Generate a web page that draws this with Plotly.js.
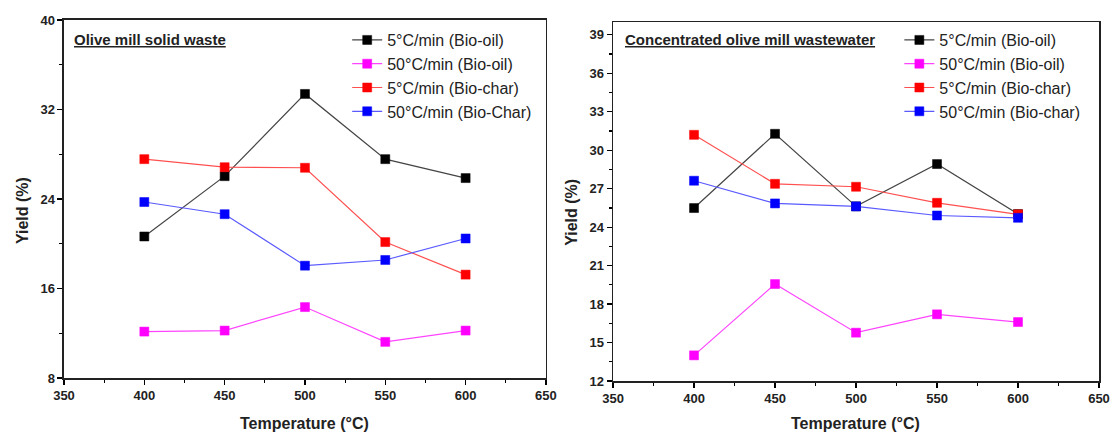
<!DOCTYPE html>
<html><head><meta charset="utf-8">
<script src="https://cdn.plot.ly/plotly-3.0.1.min.js"></script>
<style>html,body{margin:0;padding:0;background:#fff}#c{width:1111px;height:434px}</style>
</head><body><div id="c"></div>
<script>
const temps = [400, 450, 500, 550, 600];
// Olive mill solid waste
const solidOil5 = [20.65, 26.04, 33.39, 27.56, 25.87];
const solidOil50 = [12.15, 12.24, 14.34, 11.23, 12.24];
const solidChar5 = [27.56, 26.84, 26.79, 20.15, 17.24];
const solidChar50 = [23.73, 22.64, 18.04, 18.55, 20.47];
// Concentrated olive mill wastewater
const wwOil5 = [25.49, 31.28, 25.62, 28.92, 25.02];
const wwOil50 = [14.0, 19.56, 15.77, 17.2, 16.6];
const wwChar5 = [31.2, 27.38, 27.15, 25.9, 25.0];
const wwChar50 = [27.62, 25.85, 25.62, 24.91, 24.73];

const namesLeft = ['5°C/min (Bio-oil)', '50°C/min (Bio-oil)', '5°C/min (Bio-char)', '50°C/min (Bio-Char)'];
const namesRight = ['5°C/min (Bio-oil)', '50°C/min (Bio-oil)', '5°C/min (Bio-char)', '50°C/min (Bio-char)'];
const markerColors = ['#000000', '#ff00ff', '#ff0000', '#0000ff'];
const lineColors = ['#444444', '#ff44ff', '#ff5050', '#5a5aff'];

function tr(y, i, name, xa, ya, leg) {
  return {x: temps, y: y, name: name, type: 'scatter', mode: 'lines+markers',
    xaxis: xa, yaxis: ya, legend: leg,
    line: {color: lineColors[i], width: 1.2},
    marker: {symbol: 'square', size: 9, color: markerColors[i], line: {color: markerColors[i], width: 0.5}}};
}
const data = [
  tr(solidOil5, 0, namesLeft[0], 'x', 'y', 'legend'),
  tr(solidOil50, 1, namesLeft[1], 'x', 'y', 'legend'),
  tr(solidChar5, 2, namesLeft[2], 'x', 'y', 'legend'),
  tr(solidChar50, 3, namesLeft[3], 'x', 'y', 'legend'),
  tr(wwOil5, 0, namesRight[0], 'x2', 'y2', 'legend2'),
  tr(wwOil50, 1, namesRight[1], 'x2', 'y2', 'legend2'),
  tr(wwChar5, 2, namesRight[2], 'x2', 'y2', 'legend2'),
  tr(wwChar50, 3, namesRight[3], 'x2', 'y2', 'legend2')
];
const tickFont = {family: 'Liberation Sans, Arial, sans-serif', size: 13, color: '#222', weight: 'bold'};
function xax(dom, anchor) {
  return {domain: dom, anchor: anchor, range: [350, 650], tickvals: [350,400,450,500,550,600,650],
    ticks: 'outside', ticklen: 5, tickwidth: 1.2, tickcolor: '#000', showline: true, linecolor: '#222', linewidth: 1.5,
    mirror: true, showgrid: false, zeroline: false, tickfont: tickFont,
    minor: {dtick: 25, tick0: 350, ticks: 'outside', ticklen: 3, tickcolor: '#000', showgrid: false}};
}
function yax(dom, anchor, rng, dt) {
  return {domain: dom, anchor: anchor, range: rng, dtick: dt, tick0: rng[0],
    ticks: 'outside', ticklen: 5, tickwidth: 1.2, tickcolor: '#000', showline: true, linecolor: '#222', linewidth: 1.5,
    mirror: true, showgrid: false, zeroline: false, tickfont: tickFont,
    minor: {dtick: dt / 2, tick0: rng[0], ticks: 'outside', ticklen: 3, tickcolor: '#000', showgrid: false}};
}
const legFont = {family: 'Liberation Sans, Arial, sans-serif', size: 16, color: '#222'};
const annFontTitle = {family: 'Liberation Sans, Arial, sans-serif', size: 16, color: '#222', weight: 'bold'};
const layout = {
  width: 1111, height: 434, margin: {l: 0, r: 0, t: 0, b: 0},
  paper_bgcolor: '#fff', plot_bgcolor: '#fff', showlegend: true,
  xaxis: xax([0.0576, 0.4914], 'y'),
  yaxis: yax([0.129, 0.954], 'x', [8, 40], 8),
  xaxis2: xax([0.5518, 0.9892], 'y2'),
  yaxis2: yax([0.1221, 0.9493], 'x2', [12, 40], 3),
  legend: {x: 0.3125, y: 0.947, xanchor: 'left', yanchor: 'top', bgcolor: 'rgba(0,0,0,0)', font: legFont,
    tracegroupgap: 0, itemwidth: 30},
  legend2: {x: 0.8095, y: 0.947, xanchor: 'left', yanchor: 'top', bgcolor: 'rgba(0,0,0,0)', font: legFont,
    tracegroupgap: 0, itemwidth: 30},
  annotations: [
    {text: '<b><u>Olive mill solid waste</u></b>', xref: 'paper', yref: 'paper', x: 0.0648, y: 0.908, xanchor: 'left', yanchor: 'middle', showarrow: false,
      font: {family: 'Liberation Sans, Arial, sans-serif', size: 15, color: '#222'}},
    {text: '<b><u>Concentrated olive mill wastewater</u></b>', xref: 'paper', yref: 'paper', x: 0.5608, y: 0.91, xanchor: 'left', yanchor: 'middle', showarrow: false,
      font: {family: 'Liberation Sans, Arial, sans-serif', size: 15, color: '#222'}},
    {text: '<b>Temperature (°C)</b>', xref: 'paper', yref: 'paper', x: 0.2745, y: 0.024, xanchor: 'center', yanchor: 'middle', showarrow: false, font: annFontTitle},
    {text: '<b>Temperature (°C)</b>', xref: 'paper', yref: 'paper', x: 0.770, y: 0.024, xanchor: 'center', yanchor: 'middle', showarrow: false, font: annFontTitle},
    {text: '<b>Yield (%)</b>', xref: 'paper', yref: 'paper', x: 0.0198, y: 0.516, xanchor: 'center', yanchor: 'middle', textangle: -90, showarrow: false, font: annFontTitle},
    {text: '<b>Yield (%)</b>', xref: 'paper', yref: 'paper', x: 0.5145, y: 0.511, xanchor: 'center', yanchor: 'middle', textangle: -90, showarrow: false, font: annFontTitle}
  ]
};
Plotly.newPlot('c', data, layout, {displayModeBar: false, staticPlot: true});
</script></body></html>
